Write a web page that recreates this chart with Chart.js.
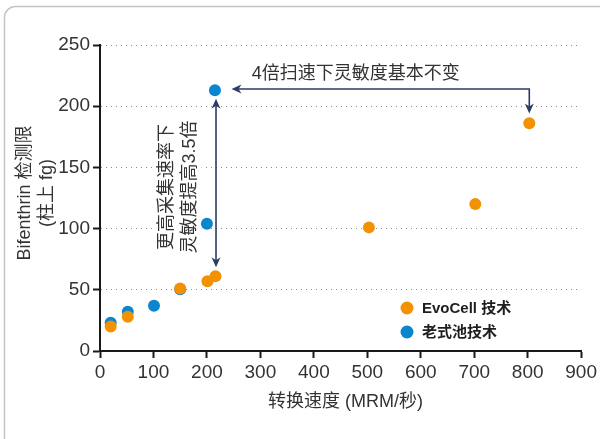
<!DOCTYPE html>
<html lang="zh">
<head>
<meta charset="UTF-8">
<title>转换速度与检测限</title>
<script src="https://cdn.jsdelivr.net/npm/chart.js"></script>
<style>
  body, html {
    margin: 0;
    padding: 0;
    background: #fff;
  }
  .chart-box {
    width: 600px;
    height: 439px;
    position: relative;
  }
</style>
</head>
<body>
<div class="chart-box">
  <canvas id="lodChart"></canvas>
</div>
<script>
  // data
  const evoCellSpeed = [20, 52, 150, 201, 216, 503, 702, 803];
  const evoCellLod   = [20, 28, 51, 57, 61, 101, 120, 186];
  const oldPoolSpeed = [20, 52, 101, 150, 200, 215];
  const oldPoolLod   = [23, 32, 37, 50.5, 104, 213];

  const xTicks = [0, 100, 200, 300, 400, 500, 600, 700, 800, 900];
  const yTicks = [0, 50, 100, 150, 200, 250];

  const seriesNames = ['EvoCell 技术', '老式池技术'];
  const seriesColors = ['#f39200', '#0a86cf'];

  const xTitle = '转换速度 (MRM/秒)';
  const yTitle = ['Bifenthrin 检测限', '(柱上 fg)'];
  const noteTop = '4倍扫速下灵敏度基本不变';
  const noteSide = ['更高采集速率下', '灵敏度提高3.5倍'];

  const textColor = '#333';
  const arrowColor = '#2c3c63';
  const latinCjk = '"Liberation Sans", "Noto Sans CJK SC", sans-serif';

  function toPoints(xs, ys) {
    return xs.map((x, i) => ({ x: x, y: ys[i] }));
  }

  function arrowHead(ctx, x, y, dir) {
    // dir: 'left', 'down', 'up'
    const len = 10, half = 4.5;
    ctx.beginPath();
    ctx.moveTo(x, y);
    if (dir === 'left') {
      ctx.lineTo(x + len, y - half);
      ctx.lineTo(x + len - 3, y);
      ctx.lineTo(x + len, y + half);
    } else if (dir === 'down') {
      ctx.lineTo(x - half, y - len);
      ctx.lineTo(x, y - len + 3);
      ctx.lineTo(x + half, y - len);
    } else {
      ctx.lineTo(x - half, y + len);
      ctx.lineTo(x, y + len - 3);
      ctx.lineTo(x + half, y + len);
    }
    ctx.closePath();
    ctx.fill();
  }

  const decorPlugin = {
    id: 'decor',
    beforeDraw(chart) {
      const ctx = chart.ctx;
      ctx.save();
      ctx.fillStyle = '#fff';
      ctx.fillRect(0, 0, chart.width, chart.height);
      // rounded frame, open on right and bottom
      ctx.strokeStyle = '#c4c4c4';
      ctx.lineWidth = 1.5;
      ctx.beginPath();
      ctx.moveTo(4.5, chart.height + 5);
      ctx.lineTo(4.5, 17);
      ctx.arcTo(4.5, 6.5, 15, 6.5, 11);
      ctx.lineTo(chart.width + 5, 6.5);
      ctx.stroke();
      ctx.restore();
    },
    beforeDatasetsDraw(chart) {
      // white patch behind the side note
      const ctx = chart.ctx;
      const xs = chart.scales.x, ys = chart.scales.y;
      ctx.save();
      ctx.fillStyle = '#fff';
      const l = xs.getPixelForValue(100), r = xs.getPixelForValue(190);
      const t = ys.getPixelForValue(195), b = ys.getPixelForValue(73);
      ctx.fillRect(l, t, r - l, b - t);
      ctx.restore();
    },
    afterDraw(chart) {
      const ctx = chart.ctx;
      const xs = chart.scales.x, ys = chart.scales.y;
      const area = chart.chartArea;
      ctx.save();

      // axis titles
      ctx.fillStyle = textColor;
      ctx.font = '18px ' + latinCjk;
      ctx.textAlign = 'center';
      ctx.textBaseline = 'middle';
      ctx.fillText(xTitle, (area.left + area.right) / 2 + 5, 402);

      ctx.save();
      ctx.translate(25, 193);
      ctx.rotate(-Math.PI / 2);
      ctx.fillText(yTitle[0], 0, 0);
      ctx.restore();
      ctx.save();
      ctx.translate(47, 193);
      ctx.rotate(-Math.PI / 2);
      ctx.fillText(yTitle[1], 0, 0);
      ctx.restore();

      // top note and its arrow
      const yLine = ys.getPixelForValue(214);
      const xTip = xs.getPixelForValue(246);
      const xCorner = xs.getPixelForValue(803);
      const yDown = ys.getPixelForValue(194);
      ctx.textAlign = 'left';
      ctx.fillText(noteTop, xs.getPixelForValue(284), ys.getPixelForValue(226.5));

      ctx.strokeStyle = arrowColor;
      ctx.fillStyle = arrowColor;
      ctx.lineWidth = 1.6;
      ctx.beginPath();
      ctx.moveTo(xTip + 6, yLine);
      ctx.lineTo(xCorner, yLine);
      ctx.lineTo(xCorner, yDown - 6);
      ctx.stroke();
      arrowHead(ctx, xTip, yLine, 'left');
      arrowHead(ctx, xCorner, yDown, 'down');

      // side double arrow
      const xV = xs.getPixelForValue(217);
      const yUp = ys.getPixelForValue(206);
      const yLow = ys.getPixelForValue(68.5);
      ctx.beginPath();
      ctx.moveTo(xV, yUp + 6);
      ctx.lineTo(xV, yLow - 6);
      ctx.stroke();
      arrowHead(ctx, xV, yUp, 'up');
      arrowHead(ctx, xV, yLow, 'down');

      // side note, rotated
      ctx.fillStyle = textColor;
      ctx.textAlign = 'center';
      const yMid = ys.getPixelForValue(134);
      [xs.getPixelForValue(125), xs.getPixelForValue(168)].forEach((px, i) => {
        ctx.save();
        ctx.translate(px, yMid);
        ctx.rotate(-Math.PI / 2);
        ctx.fillText(noteSide[i], 0, 0);
        ctx.restore();
      });

      // legend
      ctx.textAlign = 'left';
      ctx.font = 'bold 15px ' + latinCjk;
      [308, 332].forEach((py, i) => {
        ctx.fillStyle = seriesColors[i];
        ctx.beginPath();
        ctx.arc(407, py, 6.5, 0, Math.PI * 2);
        ctx.fill();
        ctx.fillStyle = '#1e1e1e';
        ctx.fillText(seriesNames[i], 422, py + 1);
      });

      ctx.restore();
    }
  };

  const ctxChart = document.getElementById('lodChart').getContext('2d');
  const lodChart = new Chart(ctxChart, {
    type: 'scatter',
    data: {
      datasets: [
        {
          label: seriesNames[0],
          data: toPoints(evoCellSpeed, evoCellLod),
          backgroundColor: seriesColors[0],
          pointRadius: 6,
          pointBorderWidth: 0
        },
        {
          label: seriesNames[1],
          data: toPoints(oldPoolSpeed, oldPoolLod),
          backgroundColor: seriesColors[1],
          pointRadius: 6,
          pointBorderWidth: 0
        }
      ]
    },
    options: {
      responsive: true,
      maintainAspectRatio: false,
      animation: false,
      layout: { padding: { left: 0, top: 45, right: 18, bottom: 0 } },
      plugins: {
        legend: { display: false },
        tooltip: { enabled: false }
      },
      scales: {
        x: {
          type: 'linear',
          min: xTicks[0],
          max: xTicks[xTicks.length - 1],
          afterBuildTicks: s => { s.ticks = xTicks.map(v => ({ value: v })); },
          afterFit: s => { s.height = 88; },
          ticks: {
            color: textColor,
            font: { family: '"Liberation Sans", sans-serif', size: 19 },
            padding: 3,
            maxRotation: 0
          },
          grid: {
            drawOnChartArea: false,
            drawTicks: true,
            tickLength: 7,
            tickColor: '#1a1a1a',
            tickWidth: 2
          },
          border: { color: '#1a1a1a', width: 2 }
        },
        y: {
          type: 'linear',
          min: yTicks[0],
          max: yTicks[yTicks.length - 1],
          afterBuildTicks: s => { s.ticks = yTicks.map(v => ({ value: v })); },
          afterFit: s => { s.width = 100; },
          ticks: {
            color: textColor,
            font: { family: '"Liberation Sans", sans-serif', size: 19 },
            padding: 3
          },
          grid: {
            color: c => (c.tick && c.tick.value === 0) ? 'rgba(0,0,0,0)' : '#8a8a8a',
            lineWidth: 1,
            tickLength: 7,
            tickColor: '#1a1a1a',
            tickWidth: 2,
            tickBorderDash: []
          },
          border: { color: '#1a1a1a', width: 2, dash: [1, 4] }
        }
      }
    },
    plugins: [decorPlugin]
  });
</script>
</body>
</html>
